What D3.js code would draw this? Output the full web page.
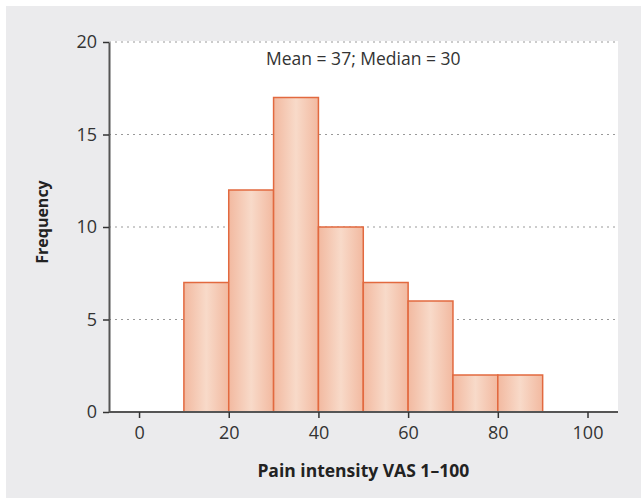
<!DOCTYPE html>
<html><head><meta charset="utf-8">
<script src="https://cdn.jsdelivr.net/npm/d3@7"></script>
<style>body{margin:0;background:#fff;} text{font-family:"Open Sans","Noto Sans",sans-serif;}</style>
</head><body>
<svg id="c" width="641" height="498"></svg>
<script>
const binStarts = [10, 20, 30, 40, 50, 60, 70, 80];
const binWidth = 10;
const frequencies = [7, 12, 17, 10, 7, 6, 2, 2];
const xTicks = [0, 20, 40, 60, 80, 100];
const yTicks = [0, 5, 10, 15, 20];
const annotation = "Mean = 37; Median = 30";
const xTitle = "Pain intensity VAS 1–100";
const yTitle = "Frequency";

const svg = d3.select("#c");
svg.append("rect").attr("x", 6).attr("y", 6).attr("width", 635).attr("height", 492).attr("fill", "#ebebed");

const L = 109, R = 618, T = 42, B = 412;
const x = d3.scaleLinear().domain([-6.7, 106.8]).range([L, R]);
const y = d3.scaleLinear().domain([0, 20]).range([B, T]);

svg.append("rect").attr("x", L).attr("y", T - 1).attr("width", R - L).attr("height", B - T + 1).attr("fill", "#fff");

const defs = svg.append("defs");
const g = defs.append("linearGradient").attr("id", "bg").attr("x1", "0").attr("x2", "1").attr("y1", "0").attr("y2", "0");
g.append("stop").attr("offset", "0%").attr("stop-color", "#f2b9a0");
g.append("stop").attr("offset", "50%").attr("stop-color", "#f8dac9");
g.append("stop").attr("offset", "100%").attr("stop-color", "#f2b9a0");

// gridlines
svg.append("g").selectAll("line").data(yTicks.filter(d => d > 0)).join("line")
  .attr("x1", L).attr("x2", R).attr("y1", d => y(d)).attr("y2", d => y(d))
  .attr("stroke", "#999").attr("stroke-width", 1.2).attr("stroke-dasharray", "2,4");

// bars
svg.append("g").selectAll("rect").data(binStarts).join("rect")
  .attr("x", (d) => x(d)).attr("width", d => x(d + binWidth) - x(d))
  .attr("y", (d, i) => y(frequencies[i])).attr("height", (d, i) => y(0) - y(frequencies[i]))
  .attr("fill", "url(#bg)").attr("stroke", "#e2693f").attr("stroke-width", 1.5);

// axes
const xa = svg.append("g").attr("transform", `translate(0,${B})`)
  .call(d3.axisBottom(x).tickValues(xTicks).tickSize(6).tickPadding(8).tickSizeOuter(0));
xa.select(".domain").attr("stroke", "#555").attr("stroke-width", 2).attr("d", `M${L},0H${R}`);
xa.selectAll(".tick line").attr("stroke", "#333").attr("stroke-width", 1.5);
xa.selectAll(".tick text").attr("font-size", 18).attr("fill", "#333").attr("font-family", "Open Sans");

const ya = svg.append("g").attr("transform", `translate(${L},0)`)
  .call(d3.axisLeft(y).tickValues(yTicks).tickSize(6).tickPadding(6).tickSizeOuter(0));
ya.select(".domain").attr("stroke", "#555").attr("stroke-width", 2);
ya.selectAll(".tick line").attr("stroke", "#333").attr("stroke-width", 1.5);
ya.selectAll(".tick text").attr("font-size", 18).attr("fill", "#333").attr("font-family", "Open Sans");

svg.append("text").attr("x", x(50)).attr("y", 65).attr("text-anchor", "middle")
  .attr("font-size", 17.5).attr("fill", "#333").text(annotation);
svg.append("text").attr("x", x(50)).attr("y", 477).attr("text-anchor", "middle")
  .attr("font-size", 17.5).attr("font-weight", "bold").attr("fill", "#222").text(xTitle);
svg.append("text").attr("transform", `translate(48,222) rotate(-90)`).attr("text-anchor", "middle")
  .attr("font-size", 16).attr("font-weight", "bold").attr("fill", "#222").text(yTitle);
</script>
</body></html>
